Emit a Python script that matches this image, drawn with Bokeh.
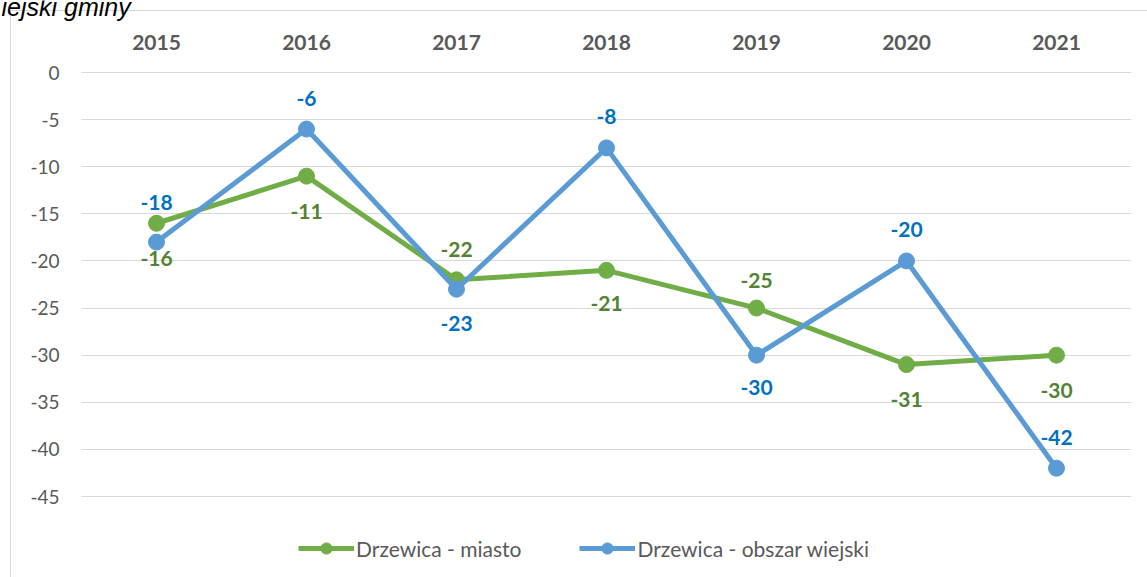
from bokeh.plotting import figure
from bokeh.models import Range1d, FixedTicker, ColumnDataSource, Legend, LegendItem, Label
from bokeh.core.properties import value
from bokeh.embed import file_html
from bokeh.resources import INLINE

# ---------------- data ----------------
years = [2015, 2016, 2017, 2018, 2019, 2020, 2021]
miasto = [-16, -11, -22, -21, -25, -31, -30]
wiejski = [-18, -6, -23, -8, -30, -20, -42]
y_ticks = [0, -5, -10, -15, -20, -25, -30, -35, -40, -45]
series_names = ["Drzewica - miasto", "Drzewica - obszar wiejski"]
title_text = "iejski gminy"

# ---------------- layout / style ----------------
# vertical offsets (px) of the data labels relative to their points
miasto_label_dy = [35, 35, -30, 33, -28, 35, 35]
wiejski_label_dy = [-40, -31, 34, -31, 32, -31, -31]

GREEN = "#70AD47"
BLUE = "#5B9BD5"
GREEN_TXT = "#548235"
BLUE_TXT = "#0070C0"
AXIS_TXT = "#595959"
GRID = "#D9D9D9"
FONT = "Lato"

# plot area: x 2014.5..2021.5 spans px 81..1131, y 0..-45 spans px 72..496
X_LO, X_HI = 2014.5, 2021.5
W, H = 1147, 577
PX_X = 150.0                       # px per year
PX_Y = 424.0 / 45.0                # px per unit
x_start = 2015 - 156 / PX_X
y_end = 72 / PX_Y
y_start = -(H - 72) / PX_Y

p = figure(width=W, height=H, output_backend="svg", toolbar_location=None,
           x_axis_location="above",
           x_range=Range1d(x_start, X_HI), y_range=Range1d(y_start, y_end))
# chart-area border (left and top edges) painted behind a transparent canvas
p.styles = {
    "background-color": "white",
    "background-image": f"linear-gradient({GRID}, {GRID}), linear-gradient({GRID}, {GRID})",
    "background-size": "1px 100%, 100% 1px",
    "background-position": "10px 10px, 10px 10px",
    "background-repeat": "no-repeat",
}
p.min_border_left = 0
p.min_border_right = 16
p.min_border_top = 0
p.min_border_bottom = 0
p.outline_line_color = None
p.background_fill_color = None
p.border_fill_color = None
p.title.visible = False

# axes (drawn at the plot-area edges)
xa = p.xaxis[0]
xa.fixed_location = 0.106
xa.ticker = FixedTicker(ticks=years)
xa.axis_line_color = None
xa.major_tick_line_color = None
xa.minor_tick_line_color = None
xa.major_label_text_font = FONT
xa.major_label_text_font_style = "bold"
xa.major_label_text_font_size = "21px"
xa.major_label_text_color = AXIS_TXT
xa.major_label_standoff = 16

ya = p.yaxis[0]
ya.fixed_location = X_LO
ya.ticker = FixedTicker(ticks=y_ticks)
ya.major_label_overrides = {t: str(t) for t in y_ticks}
ya.axis_line_color = None
ya.major_tick_line_color = None
ya.minor_tick_line_color = None
ya.major_label_text_font = FONT
ya.major_label_text_font_size = "19px"
ya.major_label_text_color = AXIS_TXT
ya.major_label_standoff = 16

p.xgrid.grid_line_color = None
yg = p.ygrid[0]
if "cross_bounds" in yg.properties():
    yg.ticker = FixedTicker(ticks=y_ticks)
    yg.grid_line_color = GRID
    yg.grid_line_width = 1
    yg.cross_bounds = (X_LO, X_HI)
else:
    yg.grid_line_color = None
    p.segment(x0=X_LO, x1=X_HI, y0=y_ticks, y1=y_ticks, line_color=GRID, line_width=1)

# cut-off caption fragment at the top-left
p.add_layout(Label(x=1, y=H - 6, x_units="screen", y_units="screen", text=title_text,
                   text_baseline="alphabetic",
                   text_font="Liberation Sans", text_font_style="italic",
                   text_font_size="25px", text_color="black"))

# series
src_m = ColumnDataSource(dict(x=years, y=miasto, label=[str(v) for v in miasto], dy=miasto_label_dy))
src_w = ColumnDataSource(dict(x=years, y=wiejski, label=[str(v) for v in wiejski], dy=wiejski_label_dy))

lm = p.line("x", "y", source=src_m, line_color=GREEN, line_width=5)
sm = p.scatter("x", "y", source=src_m, size=16, fill_color=GREEN, line_color=GREEN)
lw = p.line("x", "y", source=src_w, line_color=BLUE, line_width=5)
sw = p.scatter("x", "y", source=src_w, size=16, fill_color=BLUE, line_color=BLUE)

p.text("x", "y", text="label", source=src_m, y_offset="dy", text_align="center",
       text_baseline="middle", text_font=value(FONT), text_font_style="bold",
       text_font_size="21px", text_color=GREEN_TXT)
p.text("x", "y", text="label", source=src_w, y_offset="dy", text_align="center",
       text_baseline="middle", text_font=value(FONT), text_font_style="bold",
       text_font_size="21px", text_color=BLUE_TXT)

legend = Legend(items=[LegendItem(label=series_names[0], renderers=[lm, sm]),
                       LegendItem(label=series_names[1], renderers=[lw, sw])],
                orientation="horizontal", location=(298, 15),
                glyph_width=56, glyph_height=28, label_standoff=2, spacing=58,
                padding=0, margin=0, border_line_color=None, background_fill_alpha=0,
                label_text_font=FONT, label_text_font_size="21px",
                label_text_color=AXIS_TXT)
p.add_layout(legend, "center")

open("out.html", "w").write(file_html(p, INLINE))
